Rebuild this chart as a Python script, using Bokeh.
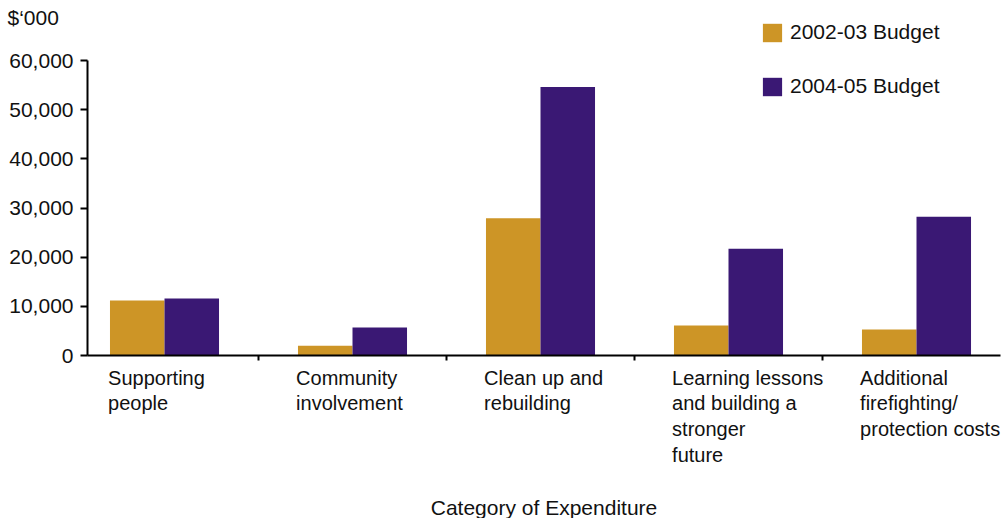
from bokeh.plotting import figure
from bokeh.models import (ColumnDataSource, Range1d, FixedTicker, NumeralTickFormatter,
                          Legend, LegendItem, Label, LabelSet)
from bokeh.embed import file_html
from bokeh.resources import INLINE
from bokeh.core.properties import value

# ---------------- data ----------------
categories = ["Supporting\npeople", "Community\ninvolvement", "Clean up and\nrebuilding",
              "Learning lessons\nand building a\nstronger\nfuture",
              "Additional\nfirefighting/\nprotection costs"]
budget_2002_03 = [11200, 2000, 27900, 6100, 5300]
budget_2004_05 = [11600, 5700, 54600, 21700, 28200]
y_ticks = [0, 10000, 20000, 30000, 40000, 50000, 60000]
series_names = ["2002-03 Budget", "2004-05 Budget"]
y_unit_label = "$\u2018000"
x_axis_title = "Category of Expenditure"

# ---------------- style / layout ----------------
FONT = "Liberation Sans"
FS = "21px"
FS_CAT = "20px"
TXT = "#111111"
C1 = "#CD9526"
C2 = "#3A1874"

W, H = 1004, 518
PX_PER_CAT = 188.0
X0_PX = 164.0          # pixel of first category centre
Y0_PX = 355.0          # pixel of value 0
Y_PER_PX = 60000 / 295.0


def xd(px):
    return (px - X0_PX) / PX_PER_CAT


def yd(px):
    return (Y0_PX - px) * Y_PER_PX


n = len(categories)
pos = list(range(n))
bw = 0.29
src = ColumnDataSource(dict(
    x1=[p_ - bw / 2 for p_ in pos], x2=[p_ + bw / 2 for p_ in pos],
    v1=budget_2002_03, v2=budget_2004_05,
))

p = figure(width=W, height=H, output_backend="svg", toolbar_location=None,
           x_range=Range1d(xd(0), xd(W)), y_range=Range1d(yd(H), yd(0)),
           min_border_left=0, min_border_right=0, min_border_top=0,
           min_border_bottom=0)
p.outline_line_color = None
p.grid.visible = False
p.background_fill_color = "white"
p.border_fill_color = "white"

r1 = p.vbar(x="x1", top="v1", width=bw, bottom=0, source=src, fill_color=C1, line_color=None)
r2 = p.vbar(x="x2", top="v2", width=bw, bottom=0, source=src, fill_color=C2, line_color=None)

# y axis
ya = p.yaxis[0]
ya.fixed_location = xd(87)
ya.ticker = FixedTicker(ticks=y_ticks)
ya.formatter = NumeralTickFormatter(format="0,0")
ya.bounds = (0, 60000)
ya.axis_line_width = 2
ya.axis_line_color = "black"
ya.major_tick_line_width = 2
ya.major_tick_out = 7
ya.major_tick_in = 0
ya.minor_tick_line_color = None
ya.major_label_standoff = 7
ya.major_label_text_font = FONT
ya.major_label_text_font_size = FS
ya.major_label_text_color = TXT

# x axis: ticks at category boundaries, no tick labels
xa = p.xaxis[0]
xa.fixed_location = 0
xa.bounds = (xd(87), xd(1000))
bounds_ticks = [i + 0.5 for i in range(n - 1)]
xa.ticker = FixedTicker(ticks=bounds_ticks)
xa.major_label_overrides = {t: "" for t in bounds_ticks}
xa.axis_line_width = 2
xa.axis_line_color = "black"
xa.major_tick_line_width = 2
xa.major_tick_out = 5
xa.major_tick_in = 0
xa.minor_tick_line_color = None
xa.major_label_standoff = 0
xa.axis_label = x_axis_title
xa.axis_label_text_font = FONT
xa.axis_label_text_font_size = FS
xa.axis_label_text_font_style = "normal"
xa.axis_label_text_color = TXT
xa.axis_label_standoff = 135

# category labels below the axis
lab_src = ColumnDataSource(dict(x=[p_ - 0.3 for p_ in pos],
                                y=[yd(366)] * n, text=categories))
p.add_layout(LabelSet(x="x", y="y", text="text", source=lab_src,
                      text_font=value(FONT), text_font_size=FS_CAT, text_color=TXT,
                      text_align="left", text_baseline="top", text_line_height=1.17))

# unit label
p.add_layout(Label(x=xd(7), y=yd(5), text=y_unit_label,
                   text_font=FONT, text_font_size=FS, text_color=TXT,
                   text_align="left", text_baseline="top"))

# legend
legend = Legend(items=[LegendItem(label=series_names[0], renderers=[r1]),
                       LegendItem(label=series_names[1], renderers=[r2])],
                location=(760, H - 98),
                glyph_width=24, glyph_height=23, label_height=23, spacing=30,
                padding=0, margin=0, label_standoff=6,
                label_text_font=FONT, label_text_font_size=FS, label_text_color=TXT,
                border_line_alpha=0, background_fill_alpha=0)
p.add_layout(legend)

open("out.html", "w").write(file_html(p, INLINE))
